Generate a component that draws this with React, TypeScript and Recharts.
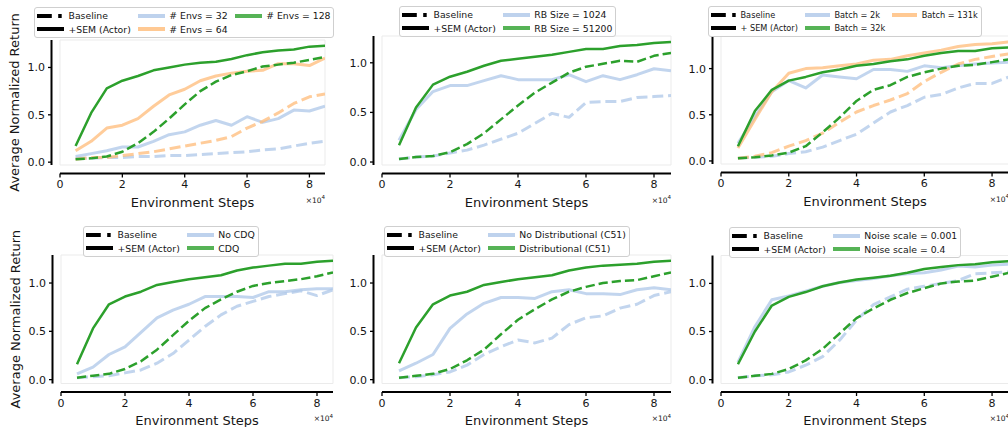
import React from 'react';
import { LineChart, Line, XAxis, YAxis, CartesianGrid, Label } from 'recharts';

// environment steps (x axis), shared by all panels
const STEPS = [5000, 10000, 15000, 20000, 25000, 30000, 35000, 40000, 45000, 50000, 55000, 60000, 65000, 70000, 75000, 80000, 85000];
const X_TICKS = [0, 20000, 40000, 60000, 80000];
const Y_TICKS = [0, 0.5, 1.0];

// panel 1: number of envs
const envs128Sem = [0.17, 0.52, 0.78, 0.86, 0.91, 0.97, 1.0, 1.03, 1.05, 1.06, 1.09, 1.13, 1.16, 1.18, 1.19, 1.22, 1.23];
const envs128Base = [0.03, 0.04, 0.06, 0.11, 0.2, 0.32, 0.46, 0.61, 0.75, 0.85, 0.92, 0.96, 1.01, 1.03, 1.05, 1.08, 1.11];
const envs64Sem = [0.12, 0.22, 0.36, 0.39, 0.46, 0.59, 0.71, 0.77, 0.86, 0.91, 0.94, 0.96, 0.97, 1.04, 1.04, 1.02, 1.1];
const envs64Base = [0.03, 0.05, 0.05, 0.07, 0.09, 0.11, 0.14, 0.17, 0.2, 0.23, 0.27, 0.36, 0.43, 0.52, 0.62, 0.69, 0.72];
const envs32Sem = [0.06, 0.09, 0.12, 0.16, 0.16, 0.22, 0.29, 0.32, 0.39, 0.44, 0.39, 0.48, 0.42, 0.46, 0.55, 0.54, 0.59];
const envs32Base = [0.04, 0.04, 0.05, 0.05, 0.06, 0.06, 0.07, 0.07, 0.08, 0.09, 0.1, 0.11, 0.13, 0.14, 0.17, 0.2, 0.22];

// panel 2: replay buffer size
const rb51200Sem = [0.17, 0.55, 0.78, 0.86, 0.91, 0.97, 1.02, 1.04, 1.06, 1.08, 1.11, 1.14, 1.14, 1.17, 1.18, 1.2, 1.21];
const rb51200Base = [0.03, 0.05, 0.06, 0.1, 0.18, 0.29, 0.43, 0.57, 0.7, 0.8, 0.9, 0.96, 0.99, 1.02, 1.01, 1.07, 1.1];
const rb1024Sem = [0.22, 0.53, 0.71, 0.77, 0.77, 0.82, 0.87, 0.83, 0.83, 0.83, 0.88, 0.81, 0.87, 0.83, 0.88, 0.94, 0.92];
const rb1024Base = [0.03, 0.05, 0.06, 0.09, 0.12, 0.17, 0.23, 0.29, 0.39, 0.49, 0.45, 0.6, 0.61, 0.61, 0.65, 0.66, 0.67];

// panel 3: batch size
const b32kSem = [0.16, 0.54, 0.77, 0.87, 0.91, 0.96, 0.99, 1.03, 1.05, 1.08, 1.1, 1.14, 1.17, 1.19, 1.19, 1.22, 1.23];
const b32kBase = [0.03, 0.04, 0.06, 0.09, 0.16, 0.31, 0.47, 0.65, 0.77, 0.82, 0.91, 0.96, 1.0, 1.03, 1.04, 1.07, 1.1];
const b131kSem = [0.14, 0.45, 0.75, 0.95, 1.0, 1.01, 1.03, 1.05, 1.09, 1.1, 1.14, 1.17, 1.2, 1.24, 1.26, 1.27, 1.29];
const b131kBase = [0.03, 0.05, 0.09, 0.16, 0.22, 0.3, 0.42, 0.53, 0.6, 0.66, 0.73, 0.86, 0.96, 1.05, 1.1, 1.13, 1.16];
const b2kSem = [0.19, 0.48, 0.75, 0.87, 0.79, 0.93, 0.91, 0.89, 0.99, 0.99, 0.97, 1.03, 1.01, 1.03, 1.05, 1.06, 1.07];
const b2kBase = [0.03, 0.04, 0.05, 0.08, 0.1, 0.15, 0.22, 0.29, 0.41, 0.53, 0.6, 0.69, 0.72, 0.79, 0.84, 0.84, 0.91];

// panel 4: clipped double Q
const cdqSem = [0.16, 0.53, 0.78, 0.86, 0.91, 0.98, 1.01, 1.04, 1.06, 1.08, 1.13, 1.16, 1.18, 1.2, 1.2, 1.22, 1.23];
const cdqBase = [0.02, 0.04, 0.06, 0.11, 0.19, 0.31, 0.46, 0.61, 0.74, 0.83, 0.91, 0.97, 1.0, 1.02, 1.04, 1.07, 1.11];
const noCdqSem = [0.06, 0.13, 0.26, 0.34, 0.49, 0.64, 0.72, 0.78, 0.86, 0.86, 0.86, 0.85, 0.91, 0.91, 0.93, 0.94, 0.94];
const noCdqBase = [0.02, 0.03, 0.04, 0.07, 0.1, 0.17, 0.27, 0.41, 0.55, 0.67, 0.76, 0.81, 0.86, 0.89, 0.92, 0.87, 0.93];

// panel 5: distributional critic
const c51Sem = [0.17, 0.54, 0.78, 0.87, 0.91, 0.98, 1.01, 1.04, 1.06, 1.08, 1.13, 1.16, 1.18, 1.19, 1.2, 1.22, 1.23];
const c51Base = [0.02, 0.04, 0.06, 0.11, 0.2, 0.31, 0.47, 0.62, 0.73, 0.83, 0.91, 0.96, 1.0, 1.02, 1.03, 1.07, 1.11];
const noC51Sem = [0.09, 0.17, 0.26, 0.53, 0.68, 0.79, 0.85, 0.85, 0.84, 0.91, 0.93, 0.89, 0.89, 0.88, 0.93, 0.95, 0.93];
const noC51Base = [0.02, 0.03, 0.05, 0.08, 0.15, 0.26, 0.34, 0.41, 0.38, 0.43, 0.57, 0.64, 0.66, 0.74, 0.78, 0.87, 0.91];

// panel 6: exploration noise
const noise04Sem = [0.16, 0.5, 0.77, 0.86, 0.91, 0.97, 1.01, 1.04, 1.06, 1.08, 1.11, 1.15, 1.17, 1.19, 1.2, 1.22, 1.23];
const noise04Base = [0.02, 0.04, 0.06, 0.11, 0.2, 0.32, 0.48, 0.64, 0.74, 0.83, 0.9, 0.95, 1.0, 1.02, 1.03, 1.07, 1.11];
const noise001Sem = [0.18, 0.55, 0.83, 0.87, 0.92, 0.97, 1.01, 1.03, 1.05, 1.08, 1.1, 1.11, 1.14, 1.18, 1.17, 1.19, 1.2];
const noise001Base = [0.02, 0.04, 0.05, 0.08, 0.15, 0.24, 0.41, 0.62, 0.78, 0.86, 0.94, 0.97, 1.0, 1.03, 1.1, 1.11, 1.12];

const GREEN = '#2ca02c';
const BLUE = '#aec7e8';
const ORANGE = '#ffbb78';
const FONT = '"DejaVu Sans", Verdana, sans-serif';
const TEXT = '#161616';
const W = 1012;
const H = 427;
const PAD = 8.5; // gap between plot area and the detached spines
const Y_AXIS_W = 40;
const X_AXIS_H = 30;

type Series = { name: string; values: number[]; color: string; dashed: boolean };
type LegendItem = { label: string; color: string; dashed?: boolean };
type Rect = { left: number; right: number; top: number; bottom: number };

interface PanelSpec {
  plot: Rect;
  yDomain: [number, number];
  series: Series[];
  yTitle?: boolean;
  legend: { left: number; top: number; fontSize: number; handle: number; cols: LegendItem[][] };
}

const BASE_COL: LegendItem[] = [
  { label: 'Baseline', color: '#000', dashed: true },
  { label: '+SEM (Actor)', color: '#000' },
];

const pair = (name: string, color: string, sem: number[], base: number[]): Series[] => [
  { name: `${name}-base`, values: base, color, dashed: true },
  { name: `${name}-sem`, values: sem, color, dashed: false },
];

const PANELS: PanelSpec[] = [
  {
    plot: { left: 60, right: 325, top: 40, bottom: 165 },
    yDomain: [-0.03, 1.29],
    yTitle: true,
    series: [...pair('e32', BLUE, envs32Sem, envs32Base), ...pair('e64', ORANGE, envs64Sem, envs64Base), ...pair('e128', GREEN, envs128Sem, envs128Base)],
    legend: {
      left: 34, top: 7, fontSize: 9.3, handle: 27,
      cols: [BASE_COL, [{ label: '# Envs = 32', color: BLUE }, { label: '# Envs = 64', color: ORANGE }], [{ label: '# Envs = 128', color: GREEN }]],
    },
  },
  {
    plot: { left: 382, right: 671, top: 36, bottom: 165 },
    yDomain: [-0.03, 1.27],
    series: [...pair('rb1024', BLUE, rb1024Sem, rb1024Base), ...pair('rb51200', GREEN, rb51200Sem, rb51200Base)],
    legend: {
      left: 399, top: 6, fontSize: 9.3, handle: 27,
      cols: [BASE_COL, [{ label: 'RB Size = 1024', color: BLUE }, { label: 'RB Size = 51200', color: GREEN }]],
    },
  },
  {
    plot: { left: 721, right: 1009, top: 36, bottom: 164 },
    yDomain: [-0.033, 1.353],
    series: [...pair('b2k', BLUE, b2kSem, b2kBase), ...pair('b131k', ORANGE, b131kSem, b131kBase), ...pair('b32k', GREEN, b32kSem, b32kBase)],
    legend: {
      left: 708, top: 6, fontSize: 8.2, handle: 25,
      cols: [
        [{ label: 'Baseline', color: '#000', dashed: true }, { label: '+ SEM (Actor)', color: '#000' }],
        [{ label: 'Batch = 2k', color: BLUE }, { label: 'Batch = 32k', color: GREEN }],
        [{ label: 'Batch = 131k', color: ORANGE }],
      ],
    },
  },
  {
    plot: { left: 61, right: 333, top: 255, bottom: 383.5 },
    yDomain: [-0.04, 1.29],
    yTitle: true,
    series: [...pair('nocdq', BLUE, noCdqSem, noCdqBase), ...pair('cdq', GREEN, cdqSem, cdqBase)],
    legend: {
      left: 83, top: 226, fontSize: 9.3, handle: 27,
      cols: [BASE_COL, [{ label: 'No CDQ', color: BLUE }, { label: 'CDQ', color: GREEN }]],
    },
  },
  {
    plot: { left: 382, right: 671, top: 255, bottom: 383.5 },
    yDomain: [-0.04, 1.29],
    series: [...pair('noc51', BLUE, noC51Sem, noC51Base), ...pair('c51', GREEN, c51Sem, c51Base)],
    legend: {
      left: 384, top: 226, fontSize: 9.3, handle: 27,
      cols: [BASE_COL, [{ label: 'No Distributional (C51)', color: BLUE }, { label: 'Distributional (C51)', color: GREEN }]],
    },
  },
  {
    plot: { left: 721, right: 1009, top: 255.5, bottom: 383.5 },
    yDomain: [-0.04, 1.29],
    series: [...pair('n001', BLUE, noise001Sem, noise001Base), ...pair('n04', GREEN, noise04Sem, noise04Base)],
    legend: {
      left: 729, top: 227, fontSize: 9.3, handle: 27,
      cols: [BASE_COL, [{ label: 'Noise scale = 0.001', color: BLUE }, { label: 'Noise scale = 0.4', color: GREEN }]],
    },
  },
];

const YTitle = (props: any) => {
  const vb = props.viewBox;
  const cx = vb.x + 2.5;
  const cy = vb.y + vb.height / 2;
  return (
    <text x={cx} y={cy} transform={`rotate(-90 ${cx} ${cy})`} textAnchor="middle" dominantBaseline="central"
      fontSize={13} fontFamily={FONT} fill={TEXT}>
      Average Normalized Return
    </text>
  );
};

const XTitle = (props: any) => {
  const vb = props.viewBox;
  return (
    <g fontFamily={FONT} fill={TEXT}>
      <text x={vb.x + vb.width / 2} y={vb.y + 33} textAnchor="middle" fontSize={13}>Environment Steps</text>
      <text x={vb.x + vb.width} y={vb.y + 29} textAnchor="end" fontSize={7.5}>
        ×10<tspan dy={-3.5} fontSize={5.5}>4</tspan>
      </text>
    </g>
  );
};

const Legend = ({ spec }: { spec: PanelSpec['legend'] }) => (
  <div style={{
    position: 'absolute', left: spec.left, top: spec.top, display: 'flex', gap: 7,
    padding: '1px 3px 1px 2px', background: 'rgba(255,255,255,0.85)', border: '1px solid #cfcfcf',
    borderRadius: 3, fontFamily: FONT, fontSize: spec.fontSize, color: TEXT, lineHeight: 1,
  }}>
    {spec.cols.map((col, ci) => (
      <div key={ci} style={{ display: 'flex', flexDirection: 'column' }}>
        {col.map((item) => (
          <div key={item.label} style={{ display: 'flex', alignItems: 'center', height: 13.5 }}>
            <svg width={spec.handle} height={6} style={{ flex: 'none' }}>
              <line x1={0} y1={3} x2={spec.handle} y2={3} stroke={item.color} strokeWidth={4}
                strokeOpacity={item.color === '#000' ? 1 : 0.8}
                strokeDasharray={item.dashed ? '14.8 6.4 3.5 100' : undefined} />
            </svg>
            <span style={{ marginLeft: 4.5, whiteSpace: 'nowrap' }}>{item.label}</span>
          </div>
        ))}
      </div>
    ))}
  </div>
);

const Panel = ({ spec }: { spec: PanelSpec }) => {
  const { plot, yDomain, series } = spec;
  const rows = STEPS.map((s, i) => {
    const row: Record<string, number> = { step: s };
    series.forEach((sr) => { row[sr.name] = sr.values[i]; });
    return row;
  });
  const margin = {
    left: plot.left - PAD - Y_AXIS_W,
    right: W - plot.right,
    top: plot.top,
    bottom: H - plot.bottom - PAD - X_AXIS_H,
  };
  const tickStyle = { fontSize: 11, fill: TEXT, fontFamily: FONT };
  return (
    <div style={{ position: 'absolute', left: 0, top: 0 }}>
      <LineChart width={W} height={H} data={rows} margin={margin}>
        <CartesianGrid stroke="#ebebeb" strokeWidth={1} />
        {/* inner axes only reserve the gap, outer ones draw the detached spines */}
        <XAxis xAxisId={0} dataKey="step" type="number" domain={[0, 85000]} ticks={X_TICKS}
          allowDataOverflow height={PAD} axisLine={false} tickLine={false} tick={false} />
        <XAxis xAxisId="s" dataKey="step" type="number" domain={[0, 85000]} ticks={X_TICKS}
          allowDataOverflow height={X_AXIS_H} axisLine={{ stroke: '#000', strokeWidth: 2 }}
          tickLine={{ stroke: '#000', strokeWidth: 1.3 }} tickSize={4} tickMargin={3}
          tick={tickStyle} tickFormatter={(v: number) => `${v / 10000}`}>
          <Label content={XTitle} />
        </XAxis>
        <YAxis yAxisId={0} type="number" domain={yDomain} ticks={Y_TICKS} allowDataOverflow
          width={PAD} axisLine={false} tickLine={false} tick={false} />
        <YAxis yAxisId="s" type="number" domain={yDomain} ticks={Y_TICKS} allowDataOverflow
          width={Y_AXIS_W} axisLine={{ stroke: '#000', strokeWidth: 2 }}
          tickLine={{ stroke: '#000', strokeWidth: 1.3 }} tickSize={3.5} tickMargin={3}
          tick={tickStyle} tickFormatter={(v: number) => v.toFixed(1)}>
          {spec.yTitle && <Label content={YTitle} />}
        </YAxis>
        {series.map((sr) => (
          <Line key={sr.name} dataKey={sr.name} type="linear" dot={false} activeDot={false}
            stroke={sr.color} strokeOpacity={sr.color === GREEN ? 1 : 0.75}
            strokeWidth={sr.color === GREEN ? 2.5 : 3}
            strokeDasharray={sr.dashed ? (sr.color === GREEN ? '9.25 4' : '11 4.8') : undefined}
            strokeLinejoin="round" isAnimationActive={false} />
        ))}
      </LineChart>
    </div>
  );
}

export default function App() {
  return (
    <div style={{ position: 'absolute', left: 0, top: 0, width: 1008, height: 427, overflow: 'hidden', background: '#fff' }}>
      {PANELS.map((p, i) => <Panel key={i} spec={p} />)}
      {PANELS.map((p, i) => <Legend key={`l${i}`} spec={p.legend} />)}
    </div>
  );
}
